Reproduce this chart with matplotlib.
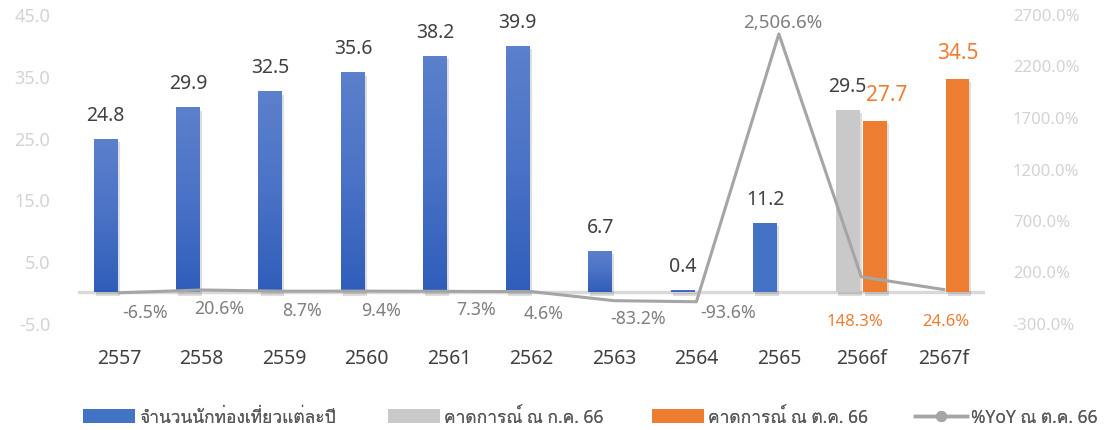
import matplotlib
matplotlib.use('Agg')
import matplotlib.pyplot as plt
from matplotlib import font_manager as fm
from matplotlib.ft2font import FT2Font
from matplotlib.lines import Line2D
from matplotlib.patches import Patch
from matplotlib.colors import LinearSegmentedColormap
import matplotlib.patheffects as pe
import numpy as np

# ---------------- data ----------------
categories = ['2557', '2558', '2559', '2560', '2561', '2562', '2563', '2564', '2565', '2566f', '2567f']
tourists_actual = [24.8, 29.9, 32.5, 35.6, 38.2, 39.9, 6.7, 0.4, 11.2, np.nan, np.nan]
forecast_jul66 = [np.nan] * 9 + [29.5, np.nan]
forecast_oct66 = [np.nan] * 9 + [27.7, 34.5]
yoy_pct = [-6.5, 20.6, 8.7, 9.4, 7.3, 4.6, -83.2, -93.6, 2506.6, 148.3, 24.6]
yoy_text = ['-6.5%', '20.6%', '8.7%', '9.4%', '7.3%', '4.6%', '-83.2%', '-93.6%',
            '2,506.6%', '148.3%', '24.6%']
left_ticks = [-5.0, 5.0, 15.0, 25.0, 35.0, 45.0]
right_ticks = [-300, 200, 700, 1200, 1700, 2200, 2700]
legend_labels = ['จำนวนนักท่องเที่ยวแต่ละปี', 'คาดการณ์ ณ ก.ค. 66', 'คาดการณ์ ณ ต.ค. 66', '%YoY ณ ต.ค. 66']

# ---------------- fonts ----------------
def find_font(ch):
    seen = set()
    for f in fm.fontManager.ttflist:
        if f.fname in seen:
            continue
        seen.add(f.fname)
        try:
            if ord(ch) in FT2Font(f.fname).get_charmap():
                return f.name
        except Exception:
            pass
    return None

thai_font = find_font('จ')
fams = ['Noto Sans', 'DejaVu Sans'] + ([thai_font] if thai_font else [])
plt.rcParams['font.family'] = fams

BLUE = '#4472C4'
GREY = '#C9C9C9'
ORANGE = '#ED7D31'
LINE = '#A5A5A5'
DARK = '#404040'
TICK = '#D3D3D3'
LBL = '#7F7F7F'

W, H = 1104, 431
fig = plt.figure(figsize=(W / 100, H / 100), dpi=100)
ax = fig.add_axes([78 / W, (H - 324) / H, 907 / W, 309 / H])
ax2 = ax.twinx()

x = np.arange(len(categories))
bw = 0.29
off = 0.166
shadow = [pe.SimplePatchShadow(offset=(1.5, -2.5), shadow_rgbFace='black', alpha=0.13), pe.Normal()]

ax.axhline(0, color='#D9D9D9', lw=2.5, zorder=0.5)
b1 = ax.bar(x - off, tourists_actual, width=bw, color=BLUE, zorder=2, path_effects=shadow)
b2 = ax.bar(x - off, forecast_jul66, width=bw, color=GREY, zorder=2, path_effects=shadow)
b3 = ax.bar(x + off, forecast_oct66, width=bw, color=ORANGE, zorder=2, path_effects=shadow)

ax.set_xlim(-0.5, len(categories) - 0.5)
ax.set_ylim(-5, 45)
ax2.set_ylim(-300, 2700)

# gradient fill on historical blue bars
grad = LinearSegmentedColormap.from_list('g', ['#2F5EBA', '#4A72C6', '#5B80CC'])
for i, rect in enumerate(b1.patches):
    if i >= 8 or np.isnan(rect.get_height()):
        continue
    x0, y0 = rect.get_x(), rect.get_y()
    w, h = rect.get_width(), rect.get_height()
    im = ax.imshow(np.linspace(0, 1, 64).reshape(-1, 1), cmap=grad, origin='lower',
                   extent=(x0, x0 + w, y0, y0 + h), aspect='auto', zorder=2.1)
    im.set_clip_path(rect)
ax.set_xlim(-0.5, len(categories) - 0.5)
ax.set_ylim(-5, 45)

ax2.plot(x, yoy_pct, color=LINE, lw=2.2, zorder=3)

# bar value labels
for i, v in enumerate(tourists_actual):
    if not np.isnan(v):
        ax.annotate(f'{v:.1f}', (x[i] - off, v), xytext=(0, 24), textcoords='offset pixels',
                    ha='center', va='center', fontsize=14, color=DARK, fontweight='semibold')
for i, v in enumerate(forecast_jul66):
    if not np.isnan(v):
        ax.annotate(f'{v:.1f}', (x[i] - off, v), xytext=(0, 24), textcoords='offset pixels',
                    ha='center', va='center', fontsize=14, color=DARK, fontweight='semibold')
orange_dx = [0, 0, 0, 0, 0, 0, 0, 0, 0, 12, 0]
for i, v in enumerate(forecast_oct66):
    if not np.isnan(v):
        ax.annotate(f'{v:.1f}', (x[i] + off, v), xytext=(orange_dx[i], 26), textcoords='offset pixels',
                    ha='center', va='center', fontsize=15, color=ORANGE, fontweight='semibold')

# YoY labels
yoy_offsets = [(26, -19), (18, -18), (18, -19), (14, -19), (27, -18), (12, -21),
               (24, -17), (32, -10), (4, 12), (-6, -44), (2, -31)]
for i, (v, t) in enumerate(zip(yoy_pct, yoy_text)):
    col = ORANGE if i >= 9 else LBL
    fs = 12 if i >= 9 else (13.5 if i == 8 else 12.8)
    ax2.annotate(t, (x[i], v), xytext=yoy_offsets[i], textcoords='offset pixels',
                 ha='center', va='center', fontsize=fs,
                 color=col, fontweight='semibold' if i >= 9 else 'normal')

# axes styling
for a in (ax, ax2):
    for s in a.spines.values():
        s.set_visible(False)
ax.set_xticks(x)
ax.set_xticklabels(categories)
ax.tick_params(axis='x', length=0, pad=18, labelsize=14, labelcolor=DARK)
for lab in ax.get_xticklabels():
    lab.set_fontweight('semibold')
ax.set_yticks(left_ticks)
ax.set_yticklabels([f'{t:.1f}' for t in left_ticks])
ax.tick_params(axis='y', length=0, pad=20, labelsize=13, labelcolor=TICK)
ax2.set_yticks(right_ticks)
ax2.set_yticklabels([f'{t:.1f}%' for t in right_ticks])
ax2.tick_params(axis='y', length=0, pad=20, labelsize=12, labelcolor=TICK)

# legend (one entry per legend, each placed at its reference position)
handles = [Patch(facecolor=BLUE), Patch(facecolor=GREY), Patch(facecolor=ORANGE),
           Line2D([0], [0], color=LINE, lw=2.5, marker='o', markersize=7)]
legend_x = [83, 388, 652, 915]
for hnd, lab, lx in zip(handles, legend_labels, legend_x):
    lg = fig.legend([hnd], [lab], loc='center left', bbox_to_anchor=(lx / W, 1 - 418 / H),
                    frameon=False, fontsize=12.5, handlelength=3.0, handleheight=0.85,
                    handletextpad=0.25, borderpad=0, borderaxespad=0, labelcolor='#595959')
    fig.add_artist(lg)

fig.savefig('out.png', dpi=100)
